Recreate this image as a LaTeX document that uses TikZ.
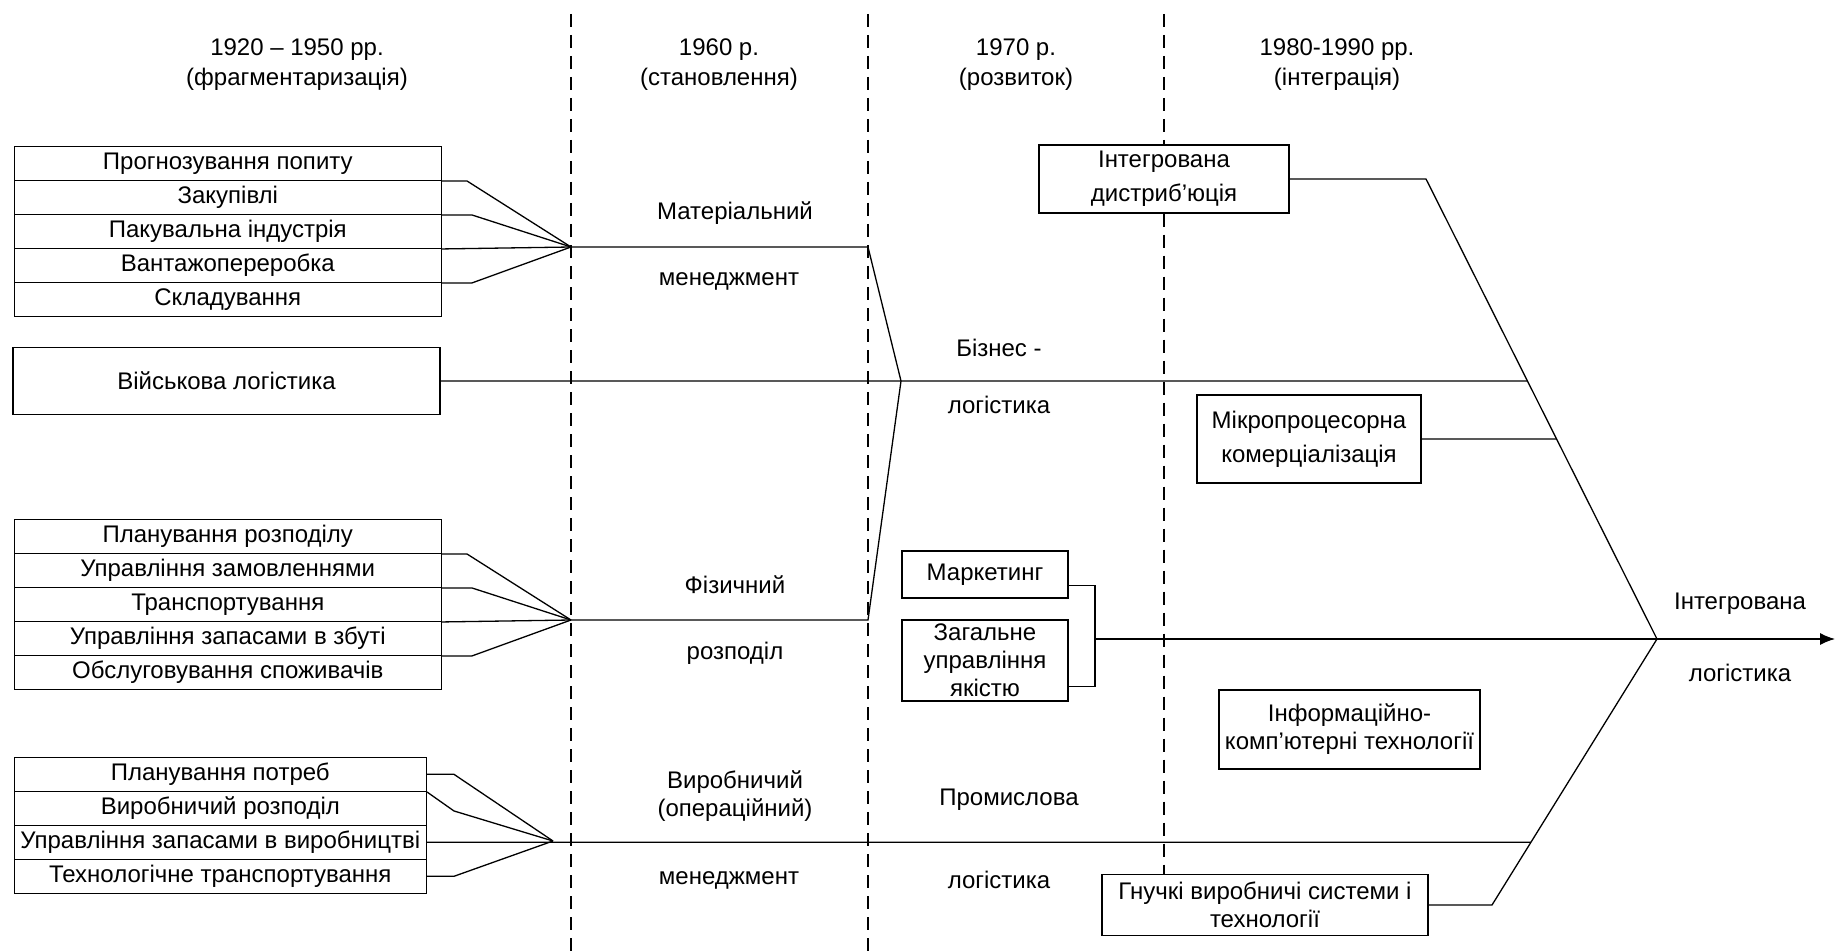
\documentclass[tikz,border=0pt]{standalone}
\usepackage{fontspec}
\setmainfont{Liberation Sans}
\usetikzlibrary{matrix,arrows.meta}

\begin{document}
\begin{tikzpicture}[x=1pt,y=-1pt,line width=1.3pt,
		font=\fontsize{24}{28}\selectfont,
		cell/.style={draw,minimum height=34,inner sep=0pt},
		box/.style={draw,fill=white,align=center,inner sep=0pt},
		txt/.style={align=center,inner sep=0pt},
		epoch/.style={line width=1.1pt,dash pattern=on 13pt off 8pt}]
		\useasboundingbox (0,0) rectangle (1839,952);

		\coordinate (e1) at (571,14);
		\coordinate (e2) at (868,14);
		\coordinate (e3) at (1164,14);
		\coordinate (mat) at (571,247);
		\coordinate (mat2) at (868,247);
		\coordinate (fiz) at (571,620);
		\coordinate (fiz2) at (868,620);
		\coordinate (biz) at (901,381);
		\coordinate (vyr) at (553,841);
		\coordinate (top) at (1426,179);
		\coordinate (hub) at (1657,639);
		\coordinate (bot) at (1492,905);
		\coordinate (br) at (1095,639);
		\coordinate (tip) at (1835,639);

		\node[txt] (h1) at (297,65) {1920 – 1950 рр.\\[2pt](фрагментаризація)};
		\node[txt] (h2) at (719,65) {1960 р.\\[2pt](становлення)};
		\node[txt] (h3) at (1016,65) {1970 р.\\[2pt](розвиток)};
		\node[txt] (h4) at (1337,65) {1980-1990 рр.\\[2pt](інтеграція)};

		\draw[epoch] (e1) -- ++(0,938);
		\draw[epoch] (e2) -- ++(0,938);

		%\matrix(fr)[matrix of nodes, row sep=0pt]
		\matrix(fr)[matrix of nodes, nodes={cell,minimum width=427}, row sep=-1.3pt, inner sep=0pt, anchor=north west] at (13,145)
		{
			Прогнозування попиту \\
			Закупівлі \\
			Пакувальна індустрія \\
			Вантажопереробка \\
			Складування \\
		};
		\matrix(fz)[matrix of nodes, nodes={cell,minimum width=427}, row sep=-1.3pt, inner sep=0pt, anchor=north west] at (13,518)
		{
			Планування розподілу \\
			Управління замовленнями \\
			Транспортування \\
			Управління запасами в збуті \\
			Обслуговування споживачів \\
		};
		\matrix(vy)[matrix of nodes, nodes={cell,minimum width=412}, row sep=-1.3pt, inner sep=0pt, anchor=north west] at (13,756)
		{
			Планування потреб \\
			Виробничий розподіл \\
			Управління запасами в виробництві \\
			Технологічне транспортування \\
		};
		\node[cell,minimum width=427,minimum height=67] (vl) at (226.5,381) {Військова логістика};

		\draw (fr-1-1.south east) -- ++(25,0) -- (mat);
		\draw (fr-2-1.south east) -- ++(30,0) -- (mat);
		\draw (fr-4-1.south east) -- ++(30,0) -- (mat);
		\draw (fz-1-1.south east) -- ++(25,0) -- (fiz);
		\draw (fz-2-1.south east) -- ++(30,0) -- (fiz);
		\draw (fz-4-1.south east) -- ++(30,0) -- (fiz);
		\draw (fr-3-1.south east) -- (mat) -- (mat2) -- (biz) -- (fiz2) -- (fiz) -- (fz-3-1.south east);
		\draw (vy-1-1.east) -- ++(27,0) -- (vyr);
		\draw (vy-1-1.south east) -- ++(27,19) -- (vyr);
		\draw (vy-4-1.east) -- ++(27,0) -- (vyr);

		\node[txt] (mat-t) at (735,213) {Матеріальний};
		\node[txt] (mat-b) at (729,281) {менеджмент};
		\node[txt] (biz-t) at (999,348) {Бізнес -};
		\node[txt] (biz-b) at (999,405) {логістика};
		\node[txt] (fiz-t) at (735,585) {Фізичний};
		\node[txt] (fiz-b) at (735,653) {розподіл};
		\node[txt] (vyr-t) at (735,796) {Виробничий\\(операційний)};
		\node[txt] (vyr-b) at (729,880) {менеджмент};
		\node[txt] (pr-t) at (1009,800) {Промислова};
		\node[txt] (pr-b) at (999,880) {логістика};
		\node[txt] (il-t) at (1740,604) {Інтегрована};
		\node[txt] (il-b) at (1740,673) {логістика};

		\node[box,minimum width=250,minimum height=68] (id) at (1164,179) {Інтегрована\\[6pt]дистриб’юція};
		\node[box,minimum width=224,minimum height=88] (mk) at (1309,439) {Мікропроцесорна\\[6pt]комерціалізація};
		\node[box,minimum width=261,minimum height=79] (it) at (1349.5,729.5) {Інформаційно-\\комп’ютерні технології};
		\node[box,minimum width=166,minimum height=47] (mr) at (985,574.5) {Маркетинг};
		\node[box,minimum width=166,minimum height=81] (zg) at (985,660.5) {Загальне\\управління\\якістю};
		\node[box,minimum width=326,minimum height=61] (gn) at (1265,905) {Гнучкі виробничі системи і\\технології};
		\draw[epoch] (e3) -- (e3 |- id.north);
		\draw[epoch] (e3 |- id.south) -- (e3 |- gn.north);

		\draw (vl.east) -- (intersection of vl.west--vl.east and top--hub);
		\draw (mk.east) -- (intersection of mk.west--mk.east and top--hub);
		\draw (vy-3-1.east) -- (intersection of vy-3-1.west--vy-3-1.east and bot--hub);
		\draw (id.east) -- (top) -- (hub) -- (bot) -- (gn.east);
		\draw ([yshift=-11pt]mr.east) -| (br) |- ([yshift=-26pt]zg.east);
		\draw[-{Latex[length=15pt,width=12pt]}] (br) -- (tip);
\end{tikzpicture}
\end{document}
